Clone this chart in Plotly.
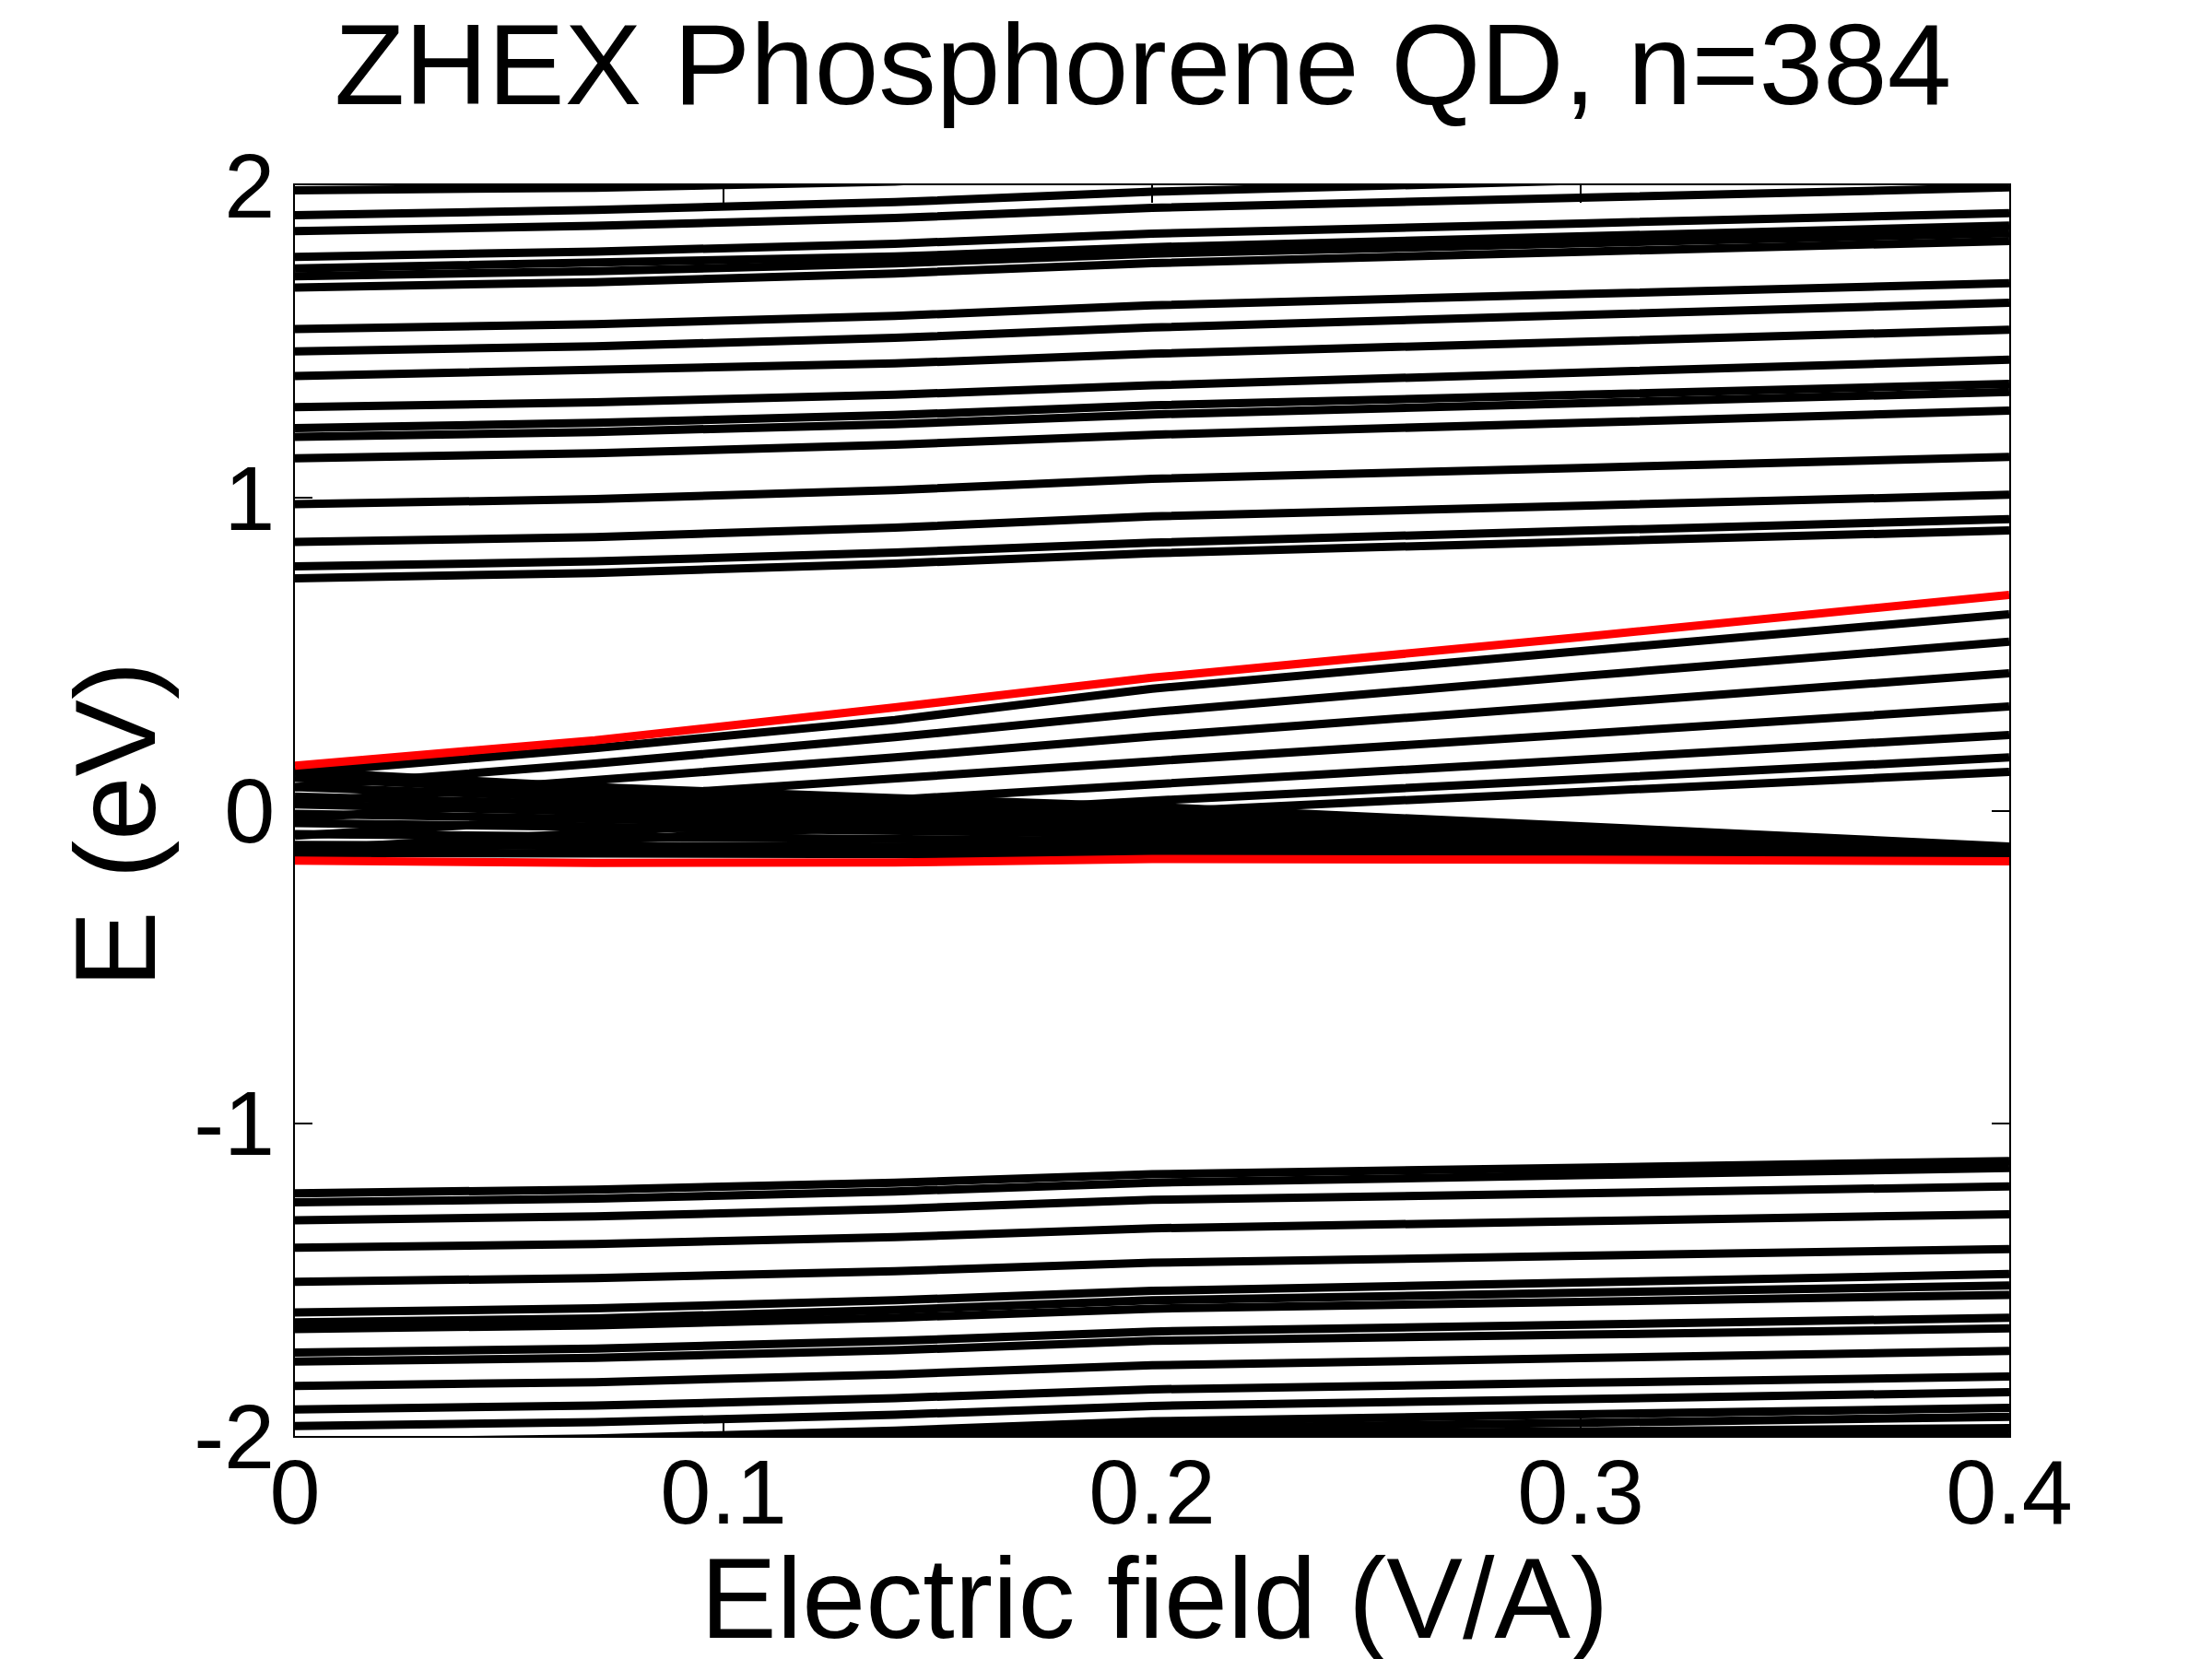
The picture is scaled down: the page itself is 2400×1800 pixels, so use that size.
import plotly.graph_objects as go

# Electric field sample points (V/A)
field = [0.0, 0.07, 0.14, 0.2, 0.3, 0.4]

# Conduction-band levels (eV) at each field value
conduction = [
    [1.984, 1.992, 2.012, 2.050, 2.090, 2.130],
    [1.904, 1.921, 1.946, 1.979, 2.015, 2.050],
    [1.853, 1.870, 1.895, 1.928, 1.960, 1.993],
    [1.771, 1.788, 1.813, 1.845, 1.878, 1.911],
    [1.734, 1.750, 1.772, 1.802, 1.837, 1.871],
    [1.709, 1.725, 1.750, 1.781, 1.814, 1.847],
    [1.673, 1.690, 1.718, 1.751, 1.787, 1.822],
    [1.540, 1.556, 1.582, 1.616, 1.652, 1.687],
    [1.469, 1.485, 1.512, 1.545, 1.585, 1.624],
    [1.390, 1.407, 1.430, 1.461, 1.500, 1.538],
    [1.290, 1.306, 1.330, 1.360, 1.401, 1.442],
    [1.223, 1.240, 1.265, 1.296, 1.330, 1.365],
    [1.195, 1.211, 1.236, 1.267, 1.303, 1.339],
    [1.127, 1.143, 1.170, 1.202, 1.240, 1.279],
    [0.980, 0.996, 1.025, 1.061, 1.096, 1.131],
    [0.859, 0.875, 0.905, 0.941, 0.975, 1.010],
    [0.781, 0.797, 0.825, 0.857, 0.895, 0.932],
    [0.743, 0.760, 0.790, 0.823, 0.860, 0.896],
]

# In-gap edge states rising with field (eV)
gap_rising = [
    [0.120, 0.200, 0.290, 0.390, 0.510, 0.628],
    [0.075, 0.150, 0.235, 0.315, 0.430, 0.540],
    [0.025, 0.095, 0.170, 0.237, 0.340, 0.439],
    [-0.025, 0.040, 0.105, 0.158, 0.245, 0.333],
    [-0.080, -0.020, 0.035, 0.084, 0.165, 0.242],
    [-0.125, -0.070, -0.020, 0.032, 0.100, 0.170],
    [-0.145, -0.095, -0.045, -0.005, 0.060, 0.124],
]

# In-gap edge states falling with field (eV)
gap_falling = [
    [0.125, 0.075, 0.040, 0.012, -0.050, -0.115],
    [0.105, 0.060, 0.025, 0.000, -0.058, -0.118],
    [0.075, 0.040, 0.008, -0.015, -0.066, -0.121],
    [0.045, 0.020, -0.008, -0.030, -0.075, -0.124],
    [0.020, 0.000, -0.025, -0.045, -0.085, -0.127],
    [-0.010, -0.025, -0.045, -0.058, -0.094, -0.130],
    [-0.040, -0.050, -0.065, -0.075, -0.104, -0.134],
    [-0.075, -0.082, -0.090, -0.098, -0.115, -0.138],
    [-0.110, -0.112, -0.115, -0.118, -0.127, -0.142],
    [-0.135, -0.137, -0.138, -0.138, -0.140, -0.146],
]

# Valence-band levels (eV)
valence = [
    [-1.224, -1.212, -1.190, -1.163, -1.142, -1.121],
    [-1.253, -1.241, -1.218, -1.190, -1.166, -1.143],
    [-1.310, -1.298, -1.274, -1.245, -1.224, -1.202],
    [-1.398, -1.386, -1.364, -1.336, -1.313, -1.291],
    [-1.507, -1.495, -1.473, -1.446, -1.424, -1.402],
    [-1.605, -1.592, -1.566, -1.536, -1.509, -1.482],
    [-1.637, -1.624, -1.597, -1.566, -1.542, -1.519],
    [-1.658, -1.646, -1.622, -1.593, -1.571, -1.549],
    [-1.733, -1.721, -1.696, -1.666, -1.644, -1.622],
    [-1.762, -1.750, -1.726, -1.696, -1.676, -1.656],
    [-1.840, -1.828, -1.803, -1.774, -1.751, -1.728],
    [-1.915, -1.903, -1.879, -1.851, -1.830, -1.810],
    [-1.968, -1.956, -1.932, -1.904, -1.882, -1.860],
    [-2.020, -2.008, -1.983, -1.953, -1.931, -1.910],
    [-2.045, -2.032, -2.005, -1.976, -1.958, -1.939],
    [-2.065, -2.052, -2.025, -1.995, -1.985, -1.975],
    [-2.090, -2.075, -2.050, -2.020, -2.007, -1.995],
]

# Highlighted (red) states
red_upper = [0.144, 0.225, 0.330, 0.425, 0.555, 0.690]
red_lower = [-0.160, -0.167, -0.166, -0.155, -0.157, -0.162]

x_ticks = [0, 0.1, 0.2, 0.3, 0.4]
x_ticktext = ["0", "0.1", "0.2", "0.3", "0.4"]
y_ticks = [-2, -1, 0, 1, 2]
y_ticktext = ["-2", "-1", "0", "1", "2"]

FONT = "Liberation Sans, Arial, Helvetica, sans-serif"
LW = 9

fig = go.Figure()
for group in (conduction, gap_rising, gap_falling, valence):
    for level in group:
        fig.add_trace(go.Scatter(x=field, y=level, mode="lines",
                                 line=dict(color="black", width=LW),
                                 showlegend=False, hoverinfo="skip"))
for level in (red_upper, red_lower):
    fig.add_trace(go.Scatter(x=field, y=level, mode="lines",
                             line=dict(color="#ff0000", width=LW),
                             showlegend=False, hoverinfo="skip"))

axis_common = dict(showgrid=False, zeroline=False, showline=True,
                   linecolor="black", linewidth=2, mirror="ticks",
                   ticks="inside", ticklen=19, tickwidth=2, tickcolor="black",
                   tickfont=dict(family=FONT, size=99, color="black"))

fig.update_layout(
    width=2400, height=1800,
    paper_bgcolor="white", plot_bgcolor="white",
    margin=dict(l=312, r=228, t=193, b=250, autoexpand=False),
    title=dict(text="ZHEX Phosphorene QD, n=384", x=0.5133, xref="container",
               xanchor="center", y=0.966, yref="container", yanchor="middle",
               font=dict(family=FONT, size=125, color="black")),
    xaxis=dict(range=[0, 0.4], tickvals=x_ticks, ticktext=x_ticktext,
               ticklabelstandoff=-26, **axis_common),
    yaxis=dict(range=[-2, 2], tickvals=y_ticks, ticktext=y_ticktext, **axis_common),
    annotations=[
        dict(text="Electric field (V/A)", xref="paper", yref="paper",
             x=0.5016, y=-0.130, xanchor="center", yanchor="middle",
             showarrow=False, font=dict(family=FONT, size=124, color="black")),
        dict(text="E (eV)", xref="paper", yref="paper", textangle=-90,
             x=-0.105, y=0.4886, xanchor="center", yanchor="middle",
             showarrow=False, font=dict(family=FONT, size=125, color="black")),
    ],
)

fig.write_html("out.html")
